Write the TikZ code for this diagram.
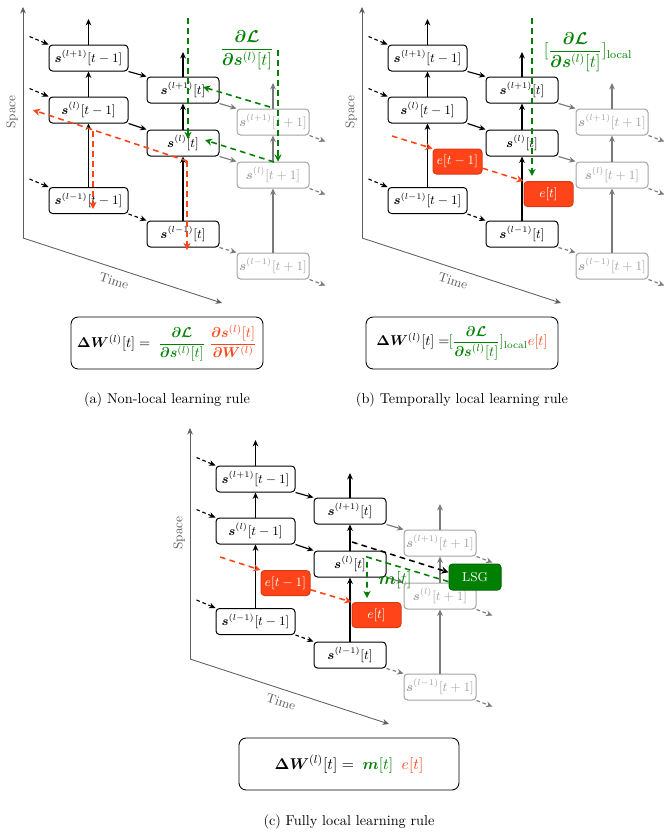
\documentclass[tikz,border=0pt]{standalone}
\usepackage{amsmath,bm}
\usetikzlibrary{arrows.meta, calc}
\definecolor{cgreen}{HTML}{008000}
\definecolor{cred}{HTML}{FF4419}
\definecolor{caxis}{HTML}{5E5E5E}
\definecolor{cghost}{HTML}{A3A3A3}
\definecolor{cghostline}{HTML}{7A7A7A}
\tikzset{
  every picture/.style={x=0.7pt, y=-0.7pt, line width=0.7pt},
  state/.style={draw=black, fill=white, rounded corners=2.5pt, font=\small, minimum height=18.2pt, inner sep=1pt},
  statewide/.style={state, minimum width=55.3pt},
  statenarrow/.style={state, minimum width=50.4pt},
  ghost/.style={statenarrow, draw=cghost, text=cghost},
  errbox/.style={draw=cred!85!black, fill=cred, text=white, rounded corners=2.5pt, minimum width=34.3pt, minimum height=17.5pt, inner sep=1pt, font=\small},
  lsgbox/.style={draw=cgreen!80!black, fill=cgreen, text=white, rounded corners=2.5pt, minimum width=36.4pt, minimum height=18.2pt, inner sep=1pt, font=\small},
  eqbox/.style={draw=black, rounded corners=5pt, minimum height=36.4pt, inner sep=2pt, line width=0.6pt},
  caption/.style={font=\normalsize},
  gradlabel/.style={text=cgreen, font=\large},
  axis/.style={-{Stealth[length=4.5pt,width=4pt]}, draw=caxis, line width=0.6pt},
  axislabel/.style={font=\small, text=caxis},
  arr/.style={-{Stealth[length=4.5pt,width=4pt]}, line width=0.8pt},
  darr/.style={arr, dash pattern=on 2.5pt off 2pt},
  garr/.style={arr, draw=cghostline},
  gdarr/.style={darr, draw=cghostline},
  gradflow/.style={-{Stealth[length=5pt,width=5pt]}, draw=cgreen, line width=1.1pt, dash pattern=on 4pt off 3pt},
  errflow/.style={gradflow, draw=cred},
  lsgflow/.style={gradflow, draw=black},
}

\begin{document}
\begin{tikzpicture}
  \useasboundingbox (0,0) rectangle (664,838);
  \foreach \p/\dx/\dy in {a/0/0, b/339/0, c/167/421}{
    \begin{scope}[shift={(\dx,\dy)}]
      \coordinate (\p-o) at (23,238);
      \coordinate (\p-space) at (23,7);
      \coordinate (\p-time) at (222,303);
      \draw[axis] (\p-o) -- (\p-space);
      \draw[axis] (\p-o) -- (\p-time);
      \node[axislabel, rotate=90] (\p-spacelbl) at (12,112) {Space};
      \node[axislabel, rotate=-18] (\p-timelbl) at (114,281) {Time};
      \node[statewide] (\p-tm-up) at (88.5,58) {$\bm{s}^{(l+1)}[t-1]$};
      \node[statewide] (\p-tm-mid) at (88.5,110) {$\bm{s}^{(l)}[t-1]$};
      \node[statewide] (\p-tm-lo) at (88.5,200.5) {$\bm{s}^{(l-1)}[t-1]$};
      \node[statenarrow] (\p-t-up) at (183,90) {$\bm{s}^{(l+1)}[t]$};
      \node[statenarrow] (\p-t-mid) at (183,143) {$\bm{s}^{(l)}[t]$};
      \node[statenarrow] (\p-t-lo) at (183,234) {$\bm{s}^{(l-1)}[t]$};
      \node[ghost] (\p-tp-up) at (273,122) {$\bm{s}^{(l+1)}[t+1]$};
      \node[ghost] (\p-tp-mid) at (273,175) {$\bm{s}^{(l)}[t+1]$};
      \node[ghost] (\p-tp-lo) at (273,266) {$\bm{s}^{(l-1)}[t+1]$};
      \coordinate (\p-tm-top) at (88.5,19);
      \coordinate (\p-t-top) at (183,52);
      \coordinate (\p-tp-top) at (273,83);
      \foreach \c in {tm, t} {
        \draw[arr] (\p-\c-lo) -- (\p-\c-mid);
        \draw[arr] (\p-\c-mid) -- (\p-\c-up);
        \draw[arr] (\p-\c-up) -- (\p-\c-top);
      }
      \draw[garr] (\p-tp-lo) -- (\p-tp-mid);
      \draw[garr] (\p-tp-mid) -- (\p-tp-up);
      \draw[garr] (\p-tp-up) -- (\p-tp-top);
      \foreach \r in {up, mid, lo} {
        \draw[darr] ([shift={(-19,-8)}]\p-tm-\r.north west) -- (\p-tm-\r.north west);
        \draw[gdarr] (\p-tp-\r.south east) -- ([shift={(16,6)}]\p-tp-\r.south east);
      }
      \draw[arr] (\p-tm-up.south east) -- (\p-t-up.north west);
      \draw[arr] (\p-tm-mid.south east) -- (\p-t-mid.north west);
      \draw[darr] (\p-tm-lo.south east) -- (\p-t-lo.north west);
      \draw[garr] (\p-t-up.south east) -- (\p-tp-up.north west);
      \draw[garr] (\p-t-mid.south east) -- (\p-tp-mid.north west);
      \draw[gdarr] (\p-t-lo.south east) -- (\p-tp-lo.north west);
    \end{scope}
  }

  \node[gradlabel] (a-grad) at (247,50) {$\dfrac{\bm{\partial\mathcal{L}}}{\bm{\partial s}^{(l)}[t]}$};
  \coordinate (a-g1) at (278,50);
  \coordinate (a-g2s) at (270,107);
  \coordinate (a-g2e) at (203,87);
  \coordinate (a-g3s) at (274,162);
  \coordinate (a-g3e) at (205,140);
  \coordinate (a-g4s) at (188,18);
  \coordinate (a-g4e) at (188,139);
  \draw[gradflow] (a-g1) -- (a-tp-mid.north -| a-g1);
  \draw[gradflow] (a-g2s) -- (a-g2e);
  \draw[gradflow] (a-g3s) -- (a-g3e);
  \draw[gradflow] (a-g4s) -- (a-g4e);
  \coordinate (a-r1) at (187,161);
  \coordinate (a-r1l) at (33,110);
  \coordinate (a-r1d) at (187,250);
  \coordinate (a-r2) at (93,131);
  \coordinate (a-r2d) at (93,209);
  \draw[errflow] (a-r1) -- (a-r1l);
  \draw[errflow] (a-r1) -- (a-r1d);
  \draw[errflow] (a-r2) -- (a-r2d);
  \node[eqbox, minimum width=134.4pt] (a-eq) at (167,343) {$\bm{\Delta W}^{(l)}[t] = \;{\color{cgreen}\dfrac{\bm{\partial\mathcal{L}}}{\bm{\partial s}^{(l)}[t]}}\;{\color{cred}\dfrac{\bm{\partial s}^{(l)}[t]}{\bm{\partial W}^{(l)}}}$};
  \node[caption] (a-cap) at (167,400) {(a) Non-local learning rule};

  \node[gradlabel] (b-grad) at (588,52) {$[\dfrac{\bm{\partial\mathcal{L}}}{\bm{\partial s}^{(l)}[t]}]_{\text{local}}$};
  \node[errbox] (b-e1) at (457.5,161.5) {$e[t-1]$};
  \node[errbox] (b-e2) at (548.5,194) {$e[t]$};
  \coordinate (b-rin) at (392,136);
  \coordinate (b-g1) at (532,18);
  \coordinate (b-g1e) at (532,176);
  \draw[errflow] (b-rin) -- (b-e1.north west);
  \draw[errflow] (b-e1.-15) -- (b-e2.north west);
  \draw[gradflow] (b-g1) -- (b-g1e);
  \node[eqbox, minimum width=134.4pt] (b-eq) at (462,343) {$\bm{\Delta W}^{(l)}[t] =\!\!{\color{cgreen}[\dfrac{\bm{\partial\mathcal{L}}}{\bm{\partial s}^{(l)}[t]}]_{\text{local}}}{\color{cred}e[t]}$};
  \node[caption] (b-cap) at (462,400) {(b) Temporally local learning rule};

  \node[errbox] (c-e1) at (285.5,583) {$e[t-1]$};
  \node[errbox] (c-e2) at (376.5,615) {$e[t]$};
  \node[lsgbox] (c-lsg) at (475,577) {LSG};
  \coordinate (c-rin) at (220,557);
  \coordinate (c-sin) at (352,542);
  \coordinate (c-mk) at (367,557);
  \coordinate (c-me) at (367,598);
  \draw[errflow] (c-rin) -- (c-e1.north west);
  \draw[errflow] (c-e1.-15) -- (c-e2.north west);
  \draw[lsgflow] (c-sin) -- (c-lsg.170);
  \draw[gradflow] (c-lsg.190) -- (c-mk) -- (c-me);
  \node[gradlabel] (c-m) at (395,580) {$\bm{m}[t]$};
  \node[eqbox, minimum width=154pt, font=\fontsize{11}{13}\selectfont] (c-eq) at (349,764) {$\bm{\Delta W}^{(l)}[t] = \;{\color{cgreen}\bm{m}[t]}\hspace{6pt}{\color{cred}e[t]}$};
  \node[caption] (c-cap) at (349,822) {(c) Fully local learning rule};
\end{tikzpicture}
\end{document}
